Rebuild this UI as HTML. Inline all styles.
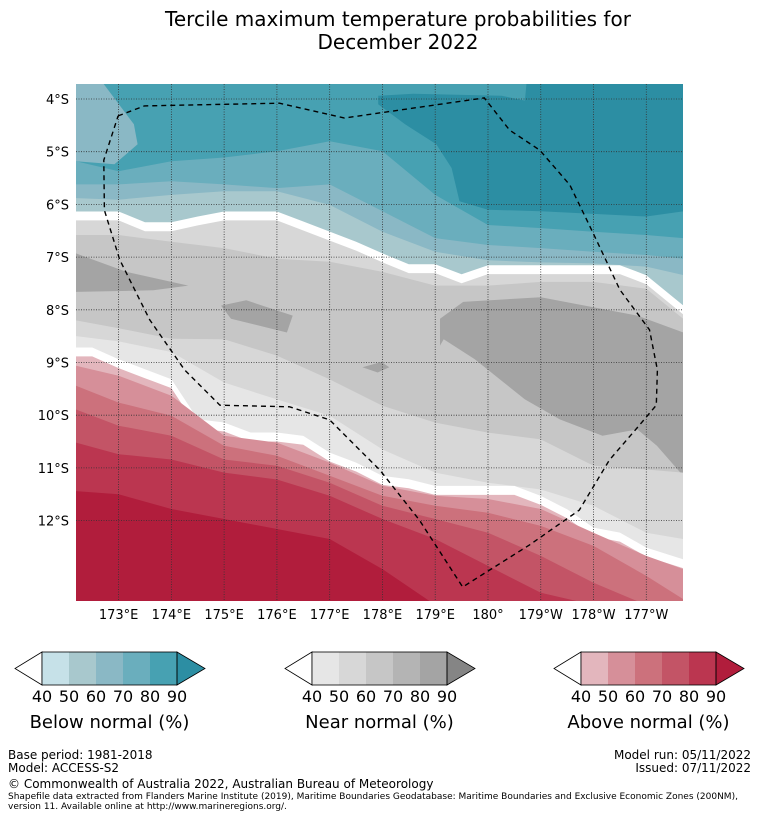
<!DOCTYPE html>
<html><head><meta charset="utf-8">
<style>
body{margin:0;width:758px;height:816px;background:#fff;font-family:"DejaVu Sans","Liberation Sans",sans-serif;overflow:hidden}
svg{position:absolute;left:0;top:0;font-family:"DejaVu Sans","Liberation Sans",sans-serif}
</style></head>
<body>
<svg id="chart" width="758" height="816" viewBox="0 0 758 816">
<text x="398" y="26" font-size="20" text-anchor="middle" fill="#000">Tercile maximum temperature probabilities for</text>
<text x="398" y="49" font-size="20" text-anchor="middle" fill="#000">December 2022</text>
<defs><clipPath id="mapclip"><rect x="76" y="84" width="607" height="517"/></clipPath></defs>
<g id="map" clip-path="url(#mapclip)"></g>
<g id="axes"></g>
<g id="legend"></g>
<g font-size="12" fill="#000">
<text x="8" y="759">Base period: 1981-2018</text>
<text x="8" y="772">Model: ACCESS-S2</text>
<text x="751" y="759" text-anchor="end">Model run: 05/11/2022</text>
<text x="751" y="772" text-anchor="end">Issued: 07/11/2022</text>
<text x="8" y="788">© Commonwealth of Australia 2022, Australian Bureau of Meteorology</text>
<text x="8" y="799" font-size="9">Shapefile data extracted from Flanders Marine Institute (2019), Maritime Boundaries Geodatabase: Maritime Boundaries and Exclusive Economic Zones (200NM),</text>
<text x="8" y="809" font-size="9">version 11. Available online at http://www.marineregions.org/.</text>
</g>
</svg>
<script>
const NS="http://www.w3.org/2000/svg";
// ---- data ----
const lonCols=[172.19,173,174,175,176,177,178,179,180,181,182,183,183.7];
const lonHalf=[172.19,172.5,173,173.5,174,174.5,175,175.5,176,176.5,177,177.5,178,178.5,179,179.5,180,180.5,181,181.5,182,182.5,183,183.7];
const darkestLon=[177.92,178.58,180.26,180.70,180.74,183.7,183.7,183,181,180,179.46,179.31,179.02,178.43,177.92];
const darkestLat=[3.94,3.90,3.94,4.03,3.6,3.6,6.13,6.23,6.13,6.10,5.94,5.31,4.86,4.48,4.10];
const blue80Edge=[5.18,5.37,5.18,5.11,4.99,4.80,4.99,5.82,6.39,6.45,6.52,6.58,6.64];
const blue70Edge=[5.62,5.62,5.56,5.62,5.69,5.62,6.13,6.64,6.77,6.83,6.90,6.96,7.03];
const blue60Edge=[5.88,5.91,5.82,5.75,5.75,6.01,6.52,6.90,7.06,7.10,7.12,7.18,7.34];
const blueWhiteTop=[6.134,6.134,6.134,6.338,6.338,6.229,6.134,6.134,6.134,6.325,6.516,6.707,6.930,7.134,7.134,7.325,7.153,7.153,7.153,7.153,7.153,7.153,7.344,7.917];
const bandWidth=0.17;
const gray60Edge=[6.58,6.58,6.71,6.83,7.03,7.09,7.28,7.54,7.54,7.47,7.47,7.60,8.17];
const gray50LowEdge=[8.2,8.35,8.55,8.56,8.87,9.32,9.82,10.14,10.33,10.46,10.96,11.03,11.09];
const gray40LowEdge=[8.5,8.6,8.8,9.38,9.70,10.01,10.65,11.09,11.28,11.41,11.72,12.23,12.35];
const redWhiteTop=[8.715,8.715,8.937,9.127,9.316,10.076,10.139,10.329,10.329,10.392,10.709,10.899,11.152,11.215,11.342,11.342,11.342,11.342,11.532,11.785,12.133,12.228,12.513,12.734];
const red50Edge=[9.06,9.25,9.63,10.39,10.52,10.90,11.34,11.53,11.59,11.78,12.23,12.67,12.92];
const red60Edge=[9.44,9.76,10.01,10.58,10.77,11.15,11.53,11.72,11.85,12.10,12.48,13.05,13.49];
const red70Edge=[9.89,10.20,10.39,10.84,10.96,11.28,11.72,11.97,12.23,12.67,13.18,13.6,13.6];
const red80Edge=[10.52,10.74,10.84,11.09,11.22,11.53,11.97,12.35,12.86,13.37,13.6,13.6,13.6];
const red90Edge=[11.44,11.50,11.78,11.97,12.16,12.35,12.92,13.6,13.6,13.6,13.6,13.6,13.6];
const lightPatchLon=[172.19,172.63,173.29,173.36,172.92,172.19];
const lightPatchLat=[3.6,3.6,4.48,4.86,5.24,5.18];
const darkPatchALon=[172.19,173.15,174.32,173.66,172.19];
const darkPatchALat=[6.93,7.28,7.54,7.63,7.66];
const darkPatchBLon=[174.94,175.42,176.30,176.19,175.13];
const darkPatchBLat=[7.92,7.82,8.11,8.43,8.17];
const darkPatchCLon=[179.09,179.53,181,182.83,183.7,183.7,183.2,182.83,182.17,181.36,180.70,179.75,179.16,179.09];
const darkPatchCLat=[8.17,7.85,7.76,8.11,8.43,11.15,10.58,10.27,10.39,10.08,9.70,8.94,8.56,8.68];
const darkPatchDLon=[177.62,177.98,178.13,177.91];
const darkPatchDLat=[9.09,8.99,9.09,9.19];
const eezLon=[172.99,173.49,176.05,177.28,179.93,180.41,180.98,181.55,181.98,182.50,183.06,183.21,183.19,182.87,182.30,181.73,180.79,179.52,178.70,177.95,177.38,177.00,176.24,174.92,174.25,173.59,173.02,172.73,172.72,172.99];
const eezLat=[4.32,4.13,4.08,4.36,3.98,4.59,4.97,5.63,6.52,7.62,8.38,9.14,9.81,10.19,10.85,11.80,12.46,13.26,11.99,11.04,10.47,10.09,9.84,9.81,9.14,8.19,7.05,6.11,5.16,4.32];
const lonTicks=[173,174,175,176,177,178,179,180,181,182,183];
const lonTickLabels=["173°E","174°E","175°E","176°E","177°E","178°E","179°E","180°","179°W","178°W","177°W"];
const latTicks=[4,5,6,7,8,9,10,11,12];
const latTickLabels=["4°S","5°S","6°S","7°S","8°S","9°S","10°S","11°S","12°S"];
const legendTitles=["Below normal (%)","Near normal (%)","Above normal (%)"];
const legendTicks=["40","50","60","70","80","90"];
const C={b90:"#2c8ea3",b80:"#47a1b2",b70:"#6aaebd",b60:"#8ab8c5",b50:"#a8c8cd",b40:"#c6e1e8",
g40:"#e6e6e6",g50:"#d7d7d7",g60:"#c6c6c6",g70:"#b4b4b4",g80:"#a4a4a4",g90:"#858585",
r40:"#e3b6bd",r50:"#d68f99",r60:"#cc717c",r70:"#c35466",r80:"#bb3650",r90:"#b11d3c"};
const X=lon=>118.6+(lon-173)*52.77;
const Y=lat=>99+(lat-4)*52.7;
const map=document.getElementById('map');
function below(lons,lats,fill,name,off){
  off=off||0;
  let d="M"+X(lons[0])+","+Y(13.7);
  for(let i=0;i<lons.length;i++) d+=" L"+X(lons[i]).toFixed(1)+","+Y(lats[i]+off).toFixed(1);
  d+=" L"+X(lons[lons.length-1])+","+Y(13.7)+"Z";
  const p=document.createElementNS(NS,'path');
  p.setAttribute('d',d);p.setAttribute('fill',fill);
  
  
  map.appendChild(p);
}
function poly(lons,lats,fill,name){
  const p=document.createElementNS(NS,'polygon');
  p.setAttribute('points',lons.map((l,i)=>X(l).toFixed(1)+","+Y(lats[i]).toFixed(1)).join(" "));
  p.setAttribute('fill',fill);
  
  
  map.appendChild(p);
}
const bg=document.createElementNS(NS,'rect');
bg.setAttribute('x',76);bg.setAttribute('y',84);bg.setAttribute('width',607);bg.setAttribute('height',517);bg.setAttribute('fill',C.b80);


map.appendChild(bg);
poly(darkestLon,darkestLat,C.b90,'below-normal-90-region');
poly(lightPatchLon,lightPatchLat,C.b60,'below-normal-60-patch');
below(lonCols,blue80Edge,C.b70,'below-normal-70-band');
below(lonCols,blue70Edge,C.b60,'below-normal-60-band');
below(lonCols,blue60Edge,C.b50,'below-normal-50-band');
below(lonHalf,blueWhiteTop,"#ffffff",'below-normal-white-band');
below(lonHalf,blueWhiteTop,C.g50,'near-normal-50-band',bandWidth);
below(lonCols,gray60Edge,C.g60,'near-normal-60-band');
poly(darkPatchALon,darkPatchALat,C.g80,'near-normal-80-patch-west');
poly(darkPatchBLon,darkPatchBLat,C.g80,'near-normal-80-patch-center');
poly(darkPatchCLon,darkPatchCLat,C.g80,'near-normal-80-patch-east');
poly(darkPatchDLon,darkPatchDLat,C.g80,'near-normal-80-patch-small');
below(lonCols,gray50LowEdge,C.g50,'near-normal-50-lower-band');
below(lonCols,gray40LowEdge,C.g40,'near-normal-40-band');
below(lonHalf,redWhiteTop,"#ffffff",'above-normal-white-band');
below(lonHalf,redWhiteTop,C.r40,'above-normal-40-band',bandWidth);
below(lonCols,red50Edge,C.r50,'above-normal-50-band');
below(lonCols,red60Edge,C.r60,'above-normal-60-band');
below(lonCols,red70Edge,C.r70,'above-normal-70-band');
below(lonCols,red80Edge,C.r80,'above-normal-80-band');
below(lonCols,red90Edge,C.r90,'above-normal-90-band');
lonTicks.forEach(l=>{
  const g=document.createElementNS(NS,'line');
  g.setAttribute('x1',X(l));g.setAttribute('x2',X(l));g.setAttribute('y1',84);g.setAttribute('y2',601);
  g.setAttribute('stroke','#333');g.setAttribute('stroke-width','0.8');g.setAttribute('stroke-dasharray','1,1.5');
  
  
  map.appendChild(g);
});
latTicks.forEach(l=>{
  const g=document.createElementNS(NS,'line');
  g.setAttribute('y1',Y(l));g.setAttribute('y2',Y(l));g.setAttribute('x1',76);g.setAttribute('x2',683);
  g.setAttribute('stroke','#333');g.setAttribute('stroke-width','0.8');g.setAttribute('stroke-dasharray','1,1.5');
  
  
  map.appendChild(g);
});
const eez=document.createElementNS(NS,'polyline');
eez.setAttribute('points',eezLon.map((l,i)=>X(l).toFixed(1)+","+Y(eezLat[i]).toFixed(1)).join(" "));
eez.setAttribute('fill','none');eez.setAttribute('stroke','#000');eez.setAttribute('stroke-width','1.4');eez.setAttribute('stroke-dasharray','5,4');


map.appendChild(eez);
const axes=document.getElementById('axes');
lonTicks.forEach((l,i)=>{
  const t=document.createElementNS(NS,'text');
  t.setAttribute('x',X(l));t.setAttribute('y',619);t.setAttribute('font-size','13');t.setAttribute('text-anchor','middle');
  t.textContent=lonTickLabels[i];
  
  
  axes.appendChild(t);
});
latTicks.forEach((l,i)=>{
  const t=document.createElementNS(NS,'text');
  t.setAttribute('x',69);t.setAttribute('y',Y(l)+5);t.setAttribute('font-size','13');t.setAttribute('text-anchor','end');
  t.textContent=latTickLabels[i];
  
  
  axes.appendChild(t);
});
const leg=document.getElementById('legend');
const legCols=[[C.b40,C.b50,C.b60,C.b70,C.b80,C.b90],[C.g40,C.g50,C.g60,C.g70,C.g80,C.g90],[C.r40,C.r50,C.r60,C.r70,C.r80,C.r90]];
const legX=[42,312,581];
legCols.forEach((cols,k)=>{
  const x0=legX[k],y0=652,h=33,w=27;
  const lt=document.createElementNS(NS,'polygon');
  lt.setAttribute('points',`${x0},${y0} ${x0-27},${y0+h/2} ${x0},${y0+h}`);
  lt.setAttribute('fill','#fff');lt.setAttribute('stroke','#000');lt.setAttribute('stroke-width','0.8');
  
  
  leg.appendChild(lt);
  for(let i=0;i<5;i++){
    const r=document.createElementNS(NS,'rect');
    r.setAttribute('x',x0+i*w);r.setAttribute('y',y0);r.setAttribute('width',w);r.setAttribute('height',h);r.setAttribute('fill',cols[i]);
    
    
    leg.appendChild(r);
  }
  const rt=document.createElementNS(NS,'polygon');
  rt.setAttribute('points',`${x0+5*w},${y0} ${x0+5*w+28},${y0+h/2} ${x0+5*w},${y0+h}`);
  rt.setAttribute('fill',cols[5]);rt.setAttribute('stroke','#000');rt.setAttribute('stroke-width','0.8');
  
  
  leg.appendChild(rt);
  const ol=document.createElementNS(NS,'rect');
  ol.setAttribute('x',x0);ol.setAttribute('y',y0);ol.setAttribute('width',5*w);ol.setAttribute('height',h);ol.setAttribute('fill','none');ol.setAttribute('stroke','#000');ol.setAttribute('stroke-width','0.8');
  
  
  leg.appendChild(ol);
  legendTicks.forEach((s,i)=>{
    const t=document.createElementNS(NS,'text');
    t.setAttribute('x',x0+i*w);t.setAttribute('y',702);t.setAttribute('font-size','16');t.setAttribute('text-anchor','middle');
    t.textContent=s;
    
    
    leg.appendChild(t);
  });
  const tt=document.createElementNS(NS,'text');
  tt.setAttribute('x',x0+2.5*w);tt.setAttribute('y',728);tt.setAttribute('font-size','18');tt.setAttribute('text-anchor','middle');
  tt.textContent=legendTitles[k];
  
  
  leg.appendChild(tt);
});
</script>
</body></html>
